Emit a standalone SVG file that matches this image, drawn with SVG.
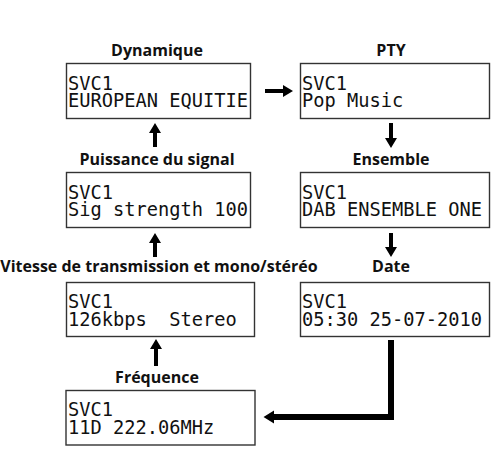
<svg xmlns="http://www.w3.org/2000/svg" width="492" height="464" viewBox="0 0 492 464">
<style>
.box{fill:#fff;stroke:#333;stroke-width:1.4}
.lbl{font-family:"Open Sans","DejaVu Sans",sans-serif;font-weight:700;font-size:16px;fill:#111;text-anchor:middle}
.lcd{font-family:"DejaVu Sans Mono","Liberation Mono",monospace;font-size:18.7px;fill:#111;white-space:pre}
.arr{fill:#000}
</style>
<rect width="492" height="464" fill="#fff"/>
<g id="dynamique">
<text class="lbl" x="157" y="56">Dynamique</text>
<rect class="box" x="66.5" y="63.5" width="184" height="55"/>
<text class="lcd"><tspan x="68" y="89.5">SVC1</tspan><tspan x="68" y="107">EUROPEAN EQUITIE</tspan></text>
</g>
<g id="pty">
<text class="lbl" x="391" y="56">PTY</text>
<rect class="box" x="300.5" y="63.5" width="189" height="55"/>
<text class="lcd"><tspan x="302" y="89.5">SVC1</tspan><tspan x="302" y="107">Pop Music</tspan></text>
</g>
<g id="puissance">
<text class="lbl" x="157" y="165">Puissance du signal</text>
<rect class="box" x="66.5" y="172.5" width="184" height="55"/>
<text class="lcd"><tspan x="68" y="198.5">SVC1</tspan><tspan x="68" y="216">Sig strength 100</tspan></text>
</g>
<g id="ensemble">
<text class="lbl" x="391" y="165">Ensemble</text>
<rect class="box" x="300.5" y="172.5" width="189" height="55"/>
<text class="lcd"><tspan x="302" y="198.5">SVC1</tspan><tspan x="302" y="216">DAB ENSEMBLE ONE</tspan></text>
</g>
<g id="vitesse">
<text class="lbl" x="159" y="272">Vitesse de transmission et mono/stéréo</text>
<rect class="box" x="66.5" y="282.5" width="188" height="54"/>
<text class="lcd"><tspan x="68" y="308">SVC1</tspan><tspan x="68" y="325.5">126kbps  Stereo</tspan></text>
</g>
<g id="date">
<text class="lbl" x="391" y="272">Date</text>
<rect class="box" x="300.5" y="282.5" width="189" height="54"/>
<text class="lcd"><tspan x="302" y="308">SVC1</tspan><tspan x="302" y="325.5">05:30 25-07-2010</tspan></text>
</g>
<g id="frequence">
<text class="lbl" x="157" y="383">Fréquence</text>
<rect class="box" x="66" y="390.5" width="189" height="54.5"/>
<text class="lcd"><tspan x="68" y="416">SVC1</tspan><tspan x="68" y="433.5">11D 222.06MHz</tspan></text>
</g>
<g id="connectors">
<polygon class="arr" points="153,147 157,147 157,133 161,133 155,123 149,133 153,133"/>
<polygon class="arr" points="153,257 157,257 157,243 161,243 155,233 149,243 153,243"/>
<polygon class="arr" points="154,366 158,366 158,349 162,349 156,339 150,349 154,349"/>
<polygon class="arr" points="265,89 283,89 283,85 293,91 283,97 283,93 265,93"/>
<polygon class="arr" points="389,123 393,123 393,138 397,138 391,148 385,138 389,138"/>
<polygon class="arr" points="389,233 393,233 393,247 397,247 391,257 385,247 389,247"/>
<polygon class="arr" points="388,340 394,340 394,420 274,420 274,423.5 263.5,417 274,410.5 274,414 388,414"/>
</g>
</svg>
